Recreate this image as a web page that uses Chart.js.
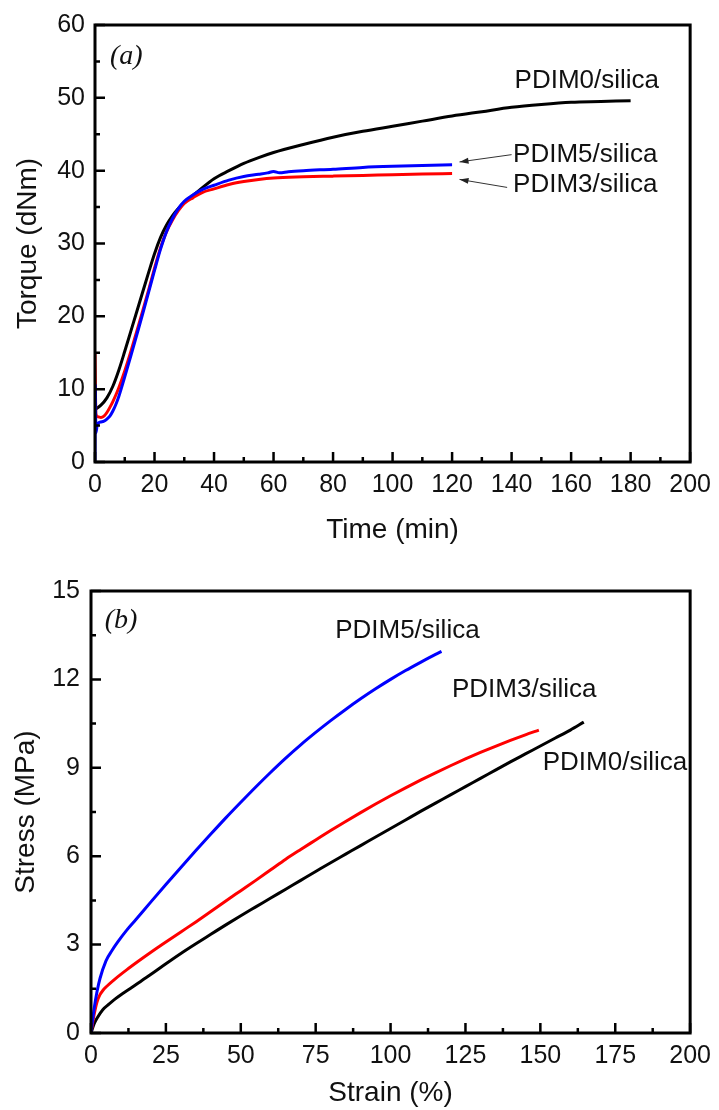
<!DOCTYPE html>
<html>
<head>
<meta charset="utf-8">
<script src="https://cdn.jsdelivr.net/npm/chart.js@4.4.0/dist/chart.umd.min.js"></script>
<style>
  body { margin: 0; background: #fff; }
  .box { width: 719px; height: 555px; }
  canvas { display: block; }
</style>
</head>
<body>
<div class="box"><canvas id="torqueChart" width="719" height="555"></canvas></div>
<div class="box"><canvas id="stressChart" width="719" height="555"></canvas></div>
<script>
// (a) torque curves
const time0 = [0,2,4,6,8,10,12,14,16,18,20,22,24,26,28,30,32,35,40,45,50,55,60,70,80,90,100,110,120,130,140,150,160,170,180];
const torque0 = [7.2,7.8,8.8,10.4,12.6,15.2,17.9,20.6,23.3,26.0,28.6,30.8,32.5,33.8,34.8,35.6,36.3,37.3,38.9,40.0,41.0,41.8,42.5,43.6,44.6,45.4,46.1,46.8,47.5,48.1,48.7,49.1,49.4,49.5,49.6];

const time3 = [0,0.3,1,2,3,4,5,6,7,8,10,12,14,16,18,20,22,24,26,28,30,33,36,40,45,50,55,60,70,80,90,100,110,120];
const torque3 = [15,6.6,6.2,6.1,6.3,6.8,7.5,8.3,9.2,10.2,12.5,15.1,17.9,20.7,23.6,26.6,29.4,31.6,33.2,34.5,35.5,36.3,37.0,37.5,38.1,38.5,38.8,39.0,39.15,39.25,39.35,39.45,39.55,39.6];

const time5 = [0,0.1,0.3,0.8,2,3,4,5,6,7,8,10,12,14,16,18,20,22,24,26,28,30,33,36,40,45,50,55,58,60,62,65,70,80,90,100,110,120];
const torque5 = [0,10.6,4.0,5.2,5.5,5.6,5.9,6.3,7.0,7.9,9.0,11.7,14.5,17.4,20.3,23.3,26.3,29.2,31.6,33.4,34.8,35.8,36.7,37.4,38.0,38.7,39.2,39.5,39.7,39.9,39.7,39.85,40.0,40.2,40.45,40.6,40.7,40.8];

// (b) stress-strain curves
const strain0 = [0,1,2,4,6,8,10,13,17,21,25,30,35,40,45,50,55,60,65,70,75,80,85,90,95,100,105,110,115,120,125,130,135,140,145,150,155,160,164.5];
const stress0 = [0,0.3,0.5,0.8,0.98,1.15,1.3,1.5,1.78,2.06,2.35,2.7,3.03,3.35,3.67,3.98,4.28,4.58,4.88,5.18,5.48,5.78,6.07,6.36,6.65,6.94,7.23,7.52,7.8,8.08,8.36,8.64,8.92,9.2,9.47,9.74,10.01,10.28,10.55];

const strain3 = [0,1,2,3,4,5,8,12,16,20,24,30,35,40,45,50,55,60,65,70,75,80,85,90,95,100,105,110,115,120,125,130,135,140,145,149.5];
const stress3 = [0,0.6,1.05,1.3,1.45,1.56,1.83,2.15,2.45,2.74,3.02,3.43,3.77,4.12,4.48,4.83,5.18,5.54,5.9,6.23,6.55,6.87,7.18,7.48,7.77,8.05,8.32,8.58,8.83,9.07,9.3,9.52,9.73,9.93,10.12,10.28];

const strain5 = [0,1,2,3,5,7,9,12,15,20,25,30,35,40,45,50,55,60,65,70,75,80,85,90,95,100,105,110,115,117];
const stress5 = [0,0.8,1.4,1.85,2.45,2.8,3.1,3.5,3.85,4.45,5.04,5.62,6.19,6.75,7.3,7.83,8.35,8.85,9.33,9.78,10.2,10.6,10.98,11.34,11.68,12.0,12.3,12.58,12.85,12.95];

// tick labels
const timeTicks = [0,20,40,60,80,100,120,140,160,180,200];
const torqueTicks = [0,10,20,30,40,50,60];
const strainTicks = [0,25,50,75,100,125,150,175,200];
const stressTicks = [0,3,6,9,12,15];

const FONT = 'Liberation Sans, Arial, sans-serif';

function pts(xs, ys) {
  return xs.map((v, i) => ({x: v, y: ys[i]}));
}

function line(label, xs, ys, color) {
  return {
    label: label,
    data: pts(xs, ys),
    borderColor: color,
    borderWidth: 3,
    pointRadius: 0,
    fill: false,
    cubicInterpolationMode: 'monotone'
  };
}

// frame, inward ticks and text notes
const framePlugin = {
  id: 'frame',
  afterDatasetsDraw(chart, args, opts) {
    const {ctx, chartArea: a, scales: {x, y}} = chart;
    ctx.save();
    ctx.strokeStyle = '#000';
    ctx.lineWidth = 2.5;
    ctx.beginPath();
    const xs = opts.xTicks, ys = opts.yTicks;
    for (let i = 0; i < xs.length; i++) {
      const px = x.getPixelForValue(xs[i]);
      ctx.moveTo(px, a.bottom); ctx.lineTo(px, a.bottom - 10);
      if (i < xs.length - 1) {
        const mx = x.getPixelForValue((xs[i] + xs[i + 1]) / 2);
        ctx.moveTo(mx, a.bottom); ctx.lineTo(mx, a.bottom - 5);
      }
    }
    for (let i = 0; i < ys.length; i++) {
      const py = y.getPixelForValue(ys[i]);
      ctx.moveTo(a.left, py); ctx.lineTo(a.left + 10, py);
      if (i < ys.length - 1) {
        const my = y.getPixelForValue((ys[i] + ys[i + 1]) / 2);
        ctx.moveTo(a.left, my); ctx.lineTo(a.left + 5, my);
      }
    }
    ctx.stroke();
    ctx.lineWidth = 3;
    ctx.strokeRect(a.left, a.top, a.right - a.left, a.bottom - a.top);

    ctx.fillStyle = '#111';
    ctx.textBaseline = 'middle';
    ctx.textAlign = 'left';
    opts.notes.forEach(n => {
      ctx.font = n.font;
      ctx.fillText(n.text, x.getPixelForValue(n.x), y.getPixelForValue(n.y));
    });

    (opts.arrows || []).forEach(ar => {
      const x1 = x.getPixelForValue(ar.from[0]), y1 = y.getPixelForValue(ar.from[1]);
      const x2 = x.getPixelForValue(ar.to[0]), y2 = y.getPixelForValue(ar.to[1]);
      ctx.strokeStyle = '#333';
      ctx.fillStyle = '#222';
      ctx.lineWidth = 1;
      ctx.beginPath();
      ctx.moveTo(x1, y1); ctx.lineTo(x2, y2);
      ctx.stroke();
      const ang = Math.atan2(y2 - y1, x2 - x1);
      ctx.beginPath();
      ctx.moveTo(x2, y2);
      ctx.lineTo(x2 - 9 * Math.cos(ang) + 3 * Math.sin(ang), y2 - 9 * Math.sin(ang) - 3 * Math.cos(ang));
      ctx.lineTo(x2 - 9 * Math.cos(ang) - 3 * Math.sin(ang), y2 - 9 * Math.sin(ang) + 3 * Math.cos(ang));
      ctx.closePath();
      ctx.fill();
    });
    ctx.restore();
  }
};

function axis(min, max, step, title, size, titlePad, tickPad) {
  return {
    type: 'linear',
    min: min,
    max: max,
    afterFit: s => { if (s.isHorizontal()) s.height = size; else s.width = size; },
    grid: { display: false, drawTicks: false },
    border: { display: false },
    ticks: {
      stepSize: step,
      autoSkip: false,
      padding: tickPad,
      color: '#111',
      font: { size: 25, family: FONT }
    },
    title: {
      display: true,
      text: title,
      color: '#111',
      font: { size: 28, family: FONT },
      padding: titlePad
    }
  };
}

const noteFont = '26px ' + FONT;
const tagFont = 'italic 28px Liberation Serif, Times New Roman, serif';

new Chart(document.getElementById('torqueChart'), {
  type: 'line',
  data: {
    datasets: [
      line('PDIM5/silica', time5, torque5, '#0000ff'),
      line('PDIM3/silica', time3, torque3, '#ff0000'),
      line('PDIM0/silica', time0, torque0, '#000000')
    ]
  },
  options: {
    responsive: false,
    animation: false,
    layout: { padding: { top: 21, right: 22, left: 0, bottom: 0 } },
    plugins: {
      legend: { display: false },
      tooltip: { enabled: false },
      frame: {
        xTicks: timeTicks,
        yTicks: torqueTicks,
        notes: [
          { text: '(a)', x: 5, y: 55.6, font: tagFont },
          { text: 'PDIM0/silica', x: 141, y: 52.4, font: noteFont },
          { text: 'PDIM5/silica', x: 140.5, y: 42.2, font: noteFont },
          { text: 'PDIM3/silica', x: 140.5, y: 38.1, font: noteFont }
        ],
        arrows: [
          { from: [140, 42.2], to: [122.5, 41.2] },
          { from: [138.5, 37.7], to: [122.5, 38.8] }
        ]
      }
    },
    scales: {
      x: axis(0, 200, 20, 'Time (min)', 93, { top: 0, bottom: 8 }, 8),
      y: axis(0, 60, 10, 'Torque (dNm)', 95, { top: 11, bottom: 0 }, 10)
    }
  },
  plugins: [framePlugin]
});

new Chart(document.getElementById('stressChart'), {
  type: 'line',
  data: {
    datasets: [
      line('PDIM5/silica', strain5, stress5, '#0000ff'),
      line('PDIM3/silica', strain3, stress3, '#ff0000'),
      line('PDIM0/silica', strain0, stress0, '#000000')
    ]
  },
  options: {
    responsive: false,
    animation: false,
    layout: { padding: { top: 36, right: 22, left: 0, bottom: 0 } },
    plugins: {
      legend: { display: false },
      tooltip: { enabled: false },
      frame: {
        xTicks: strainTicks,
        yTicks: stressTicks,
        notes: [
          { text: '(b)', x: 4.6, y: 14.0, font: tagFont },
          { text: 'PDIM5/silica', x: 81.5, y: 13.64, font: noteFont },
          { text: 'PDIM3/silica', x: 120.5, y: 11.64, font: noteFont },
          { text: 'PDIM0/silica', x: 150.8, y: 9.16, font: noteFont }
        ]
      }
    },
    scales: {
      x: axis(0, 200, 25, 'Strain (%)', 77, { top: 0, bottom: 0 }, 8),
      y: axis(0, 15, 3, 'Stress (MPa)', 91, { top: 9, bottom: 0 }, 11)
    }
  },
  plugins: [framePlugin]
});
</script>
</body>
</html>
